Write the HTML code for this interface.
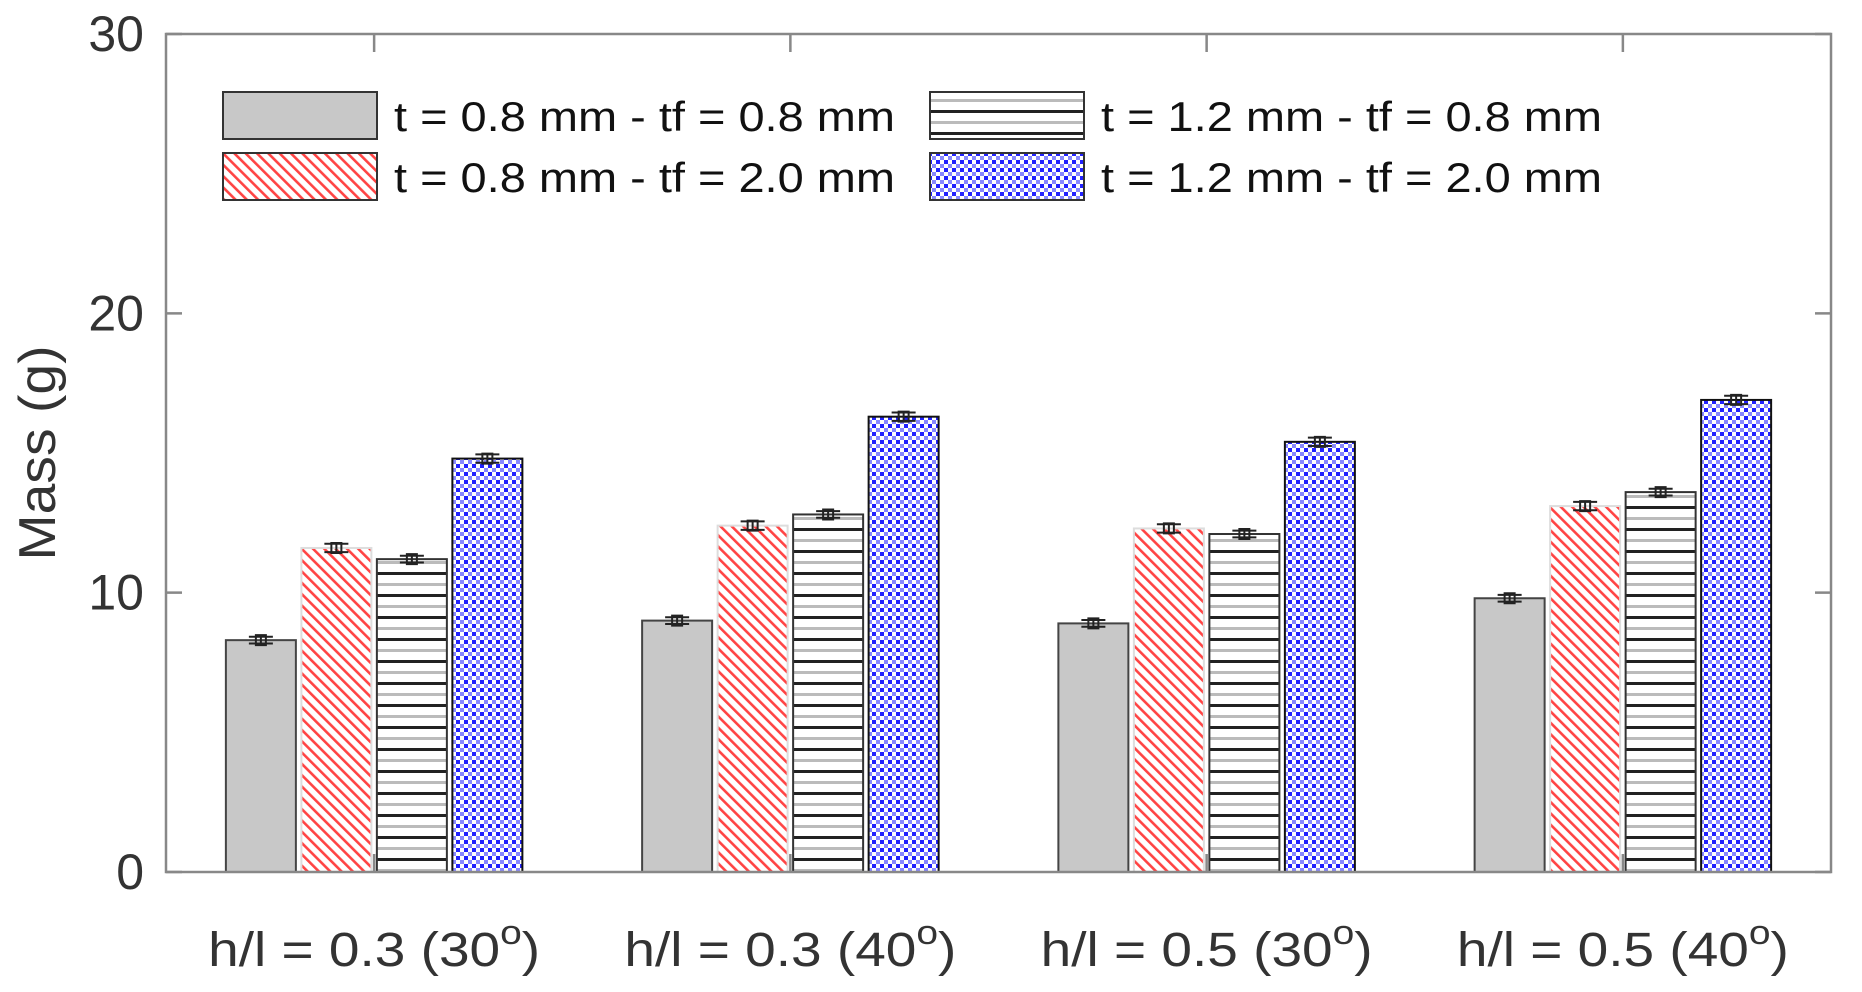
<!DOCTYPE html>
<html><head><meta charset="utf-8"><style>
html,body{margin:0;padding:0;background:#fff;}
svg{display:block;font-family:"Liberation Sans",Arial,sans-serif;}
</style></head><body>
<svg id="chart" width="1862" height="992" viewBox="0 0 1862 992">
<defs>
<pattern id="pRed" patternUnits="userSpaceOnUse" width="8" height="8" patternTransform="rotate(-45)">
<rect width="8" height="8" fill="#fff"/><rect x="0" y="0" width="2.6" height="8" fill="#f44"/>
</pattern>
<pattern id="pStripe" patternUnits="userSpaceOnUse" width="10" height="22">
<rect width="10" height="22" fill="#fff"/><rect y="0" width="10" height="3" fill="#222"/><rect y="11" width="10" height="3" fill="#bbb"/>
</pattern>
<pattern id="pBlue" patternUnits="userSpaceOnUse" width="8" height="8">
<rect width="8" height="8" fill="#fff"/><rect x="0" y="0" width="4" height="4" fill="#22f"/><rect x="4" y="4" width="4" height="4" fill="#88f"/>
</pattern>
</defs>
<g id="plot"></g>
</svg>
<script>
const categories=["h/l = 0.3 (30","h/l = 0.3 (40","h/l = 0.5 (30","h/l = 0.5 (40"];
const seriesNames=["t = 0.8 mm - tf = 0.8 mm","t = 0.8 mm - tf = 2.0 mm","t = 1.2 mm - tf = 0.8 mm","t = 1.2 mm - tf = 2.0 mm"];
const s1=[8.3,9.0,8.9,9.8];
const s2=[11.6,12.4,12.3,13.1];
const s3=[11.2,12.8,12.1,13.6];
const s4=[14.8,16.3,15.4,16.9];
const err=[0.12,0.15,0.12,0.15];
const yTicks=[0,10,20,30];
const series=[s1,s2,s3,s4];
const fills=["#c8c8c8","url(#pRed)","url(#pStripe)","url(#pBlue)"];
const strokes=["#444","#ddd","#333","#111"];
const NS="http://www.w3.org/2000/svg";
const L=166,R=1831,T=34,B=872;
const y=v=>B-(v-0)/(30-0)*(B-T);
const x=i=>L+(i+1-0.5)/4*(R-L);
const g=document.getElementById('plot');
function mk(tag,at,parent){const e=document.createElementNS(NS,tag);for(const k in at)e.setAttribute(k,at[k]);(parent||g).appendChild(e);return e;}
const step=75.5,bw=70;
series.forEach((s,si)=>{s.forEach((v,ci)=>{
 const cx=x(ci)+(si-1.5)*step;
 const r=mk('rect',{x:cx-bw/2,y:y(v),width:bw,height:B-y(v),fill:fills[si],stroke:strokes[si],'stroke-width':2});
 
 
 const e=mk('path',{d:`M${cx} ${y(v+err[si])}V${y(v-err[si])}M${cx-12} ${y(v+err[si])}H${cx+12}M${cx-12} ${y(v-err[si])}H${cx+12}M${cx-5} ${y(v)-5}h10v10h-10z`,stroke:'#222','stroke-width':2,fill:'none'});
 
 
});});
const ax=mk('rect',{x:L,y:T,width:R-L,height:B-T,fill:'none',stroke:'#888','stroke-width':2.5});


yTicks.forEach(t=>{
 mk('path',{d:`M${L} ${y(t)}h16M${R} ${y(t)}h-16`,stroke:'#888','stroke-width':2.5});
 const tx=mk('text',{x:144,y:y(t)+17,'text-anchor':'end','font-size':50,fill:'#333'});
 tx.textContent=t;
 
 
});
categories.forEach((c,i)=>{
 mk('path',{d:`M${x(i)} ${T}v18M${x(i)} ${B}v-18`,stroke:'#888','stroke-width':2.5});
 const tx=mk('text',{x:x(i),y:966,'text-anchor':'middle','font-size':48,fill:'#333',textLength:332,lengthAdjust:'spacingAndGlyphs'});
 tx.innerHTML=c+'<tspan dy="-22" font-size="34">o</tspan><tspan dy="22">)</tspan>';
 
 
});
const yt=mk('text',{x:0,y:0,transform:'translate(55 453) rotate(-90)','text-anchor':'middle','font-size':52,fill:'#333',textLength:215,lengthAdjust:'spacingAndGlyphs'});
yt.textContent='Mass (g)';


const legPos=[[223,92],[223,153],[930,92],[930,153]];
const legOrder=[0,1,2,3];
legOrder.forEach(si=>{
 const [lx,ly]=legPos[si];
 const r=mk('rect',{x:lx,y:ly,width:154,height:47,fill:fills[si],stroke:'#333','stroke-width':2});
 
 
 const t=mk('text',{x:lx+171,y:ly+39,'font-size':42,fill:'#111',textLength:501,lengthAdjust:'spacingAndGlyphs'});
 t.textContent=seriesNames[si];
 
 
});
</script>
</body></html>
